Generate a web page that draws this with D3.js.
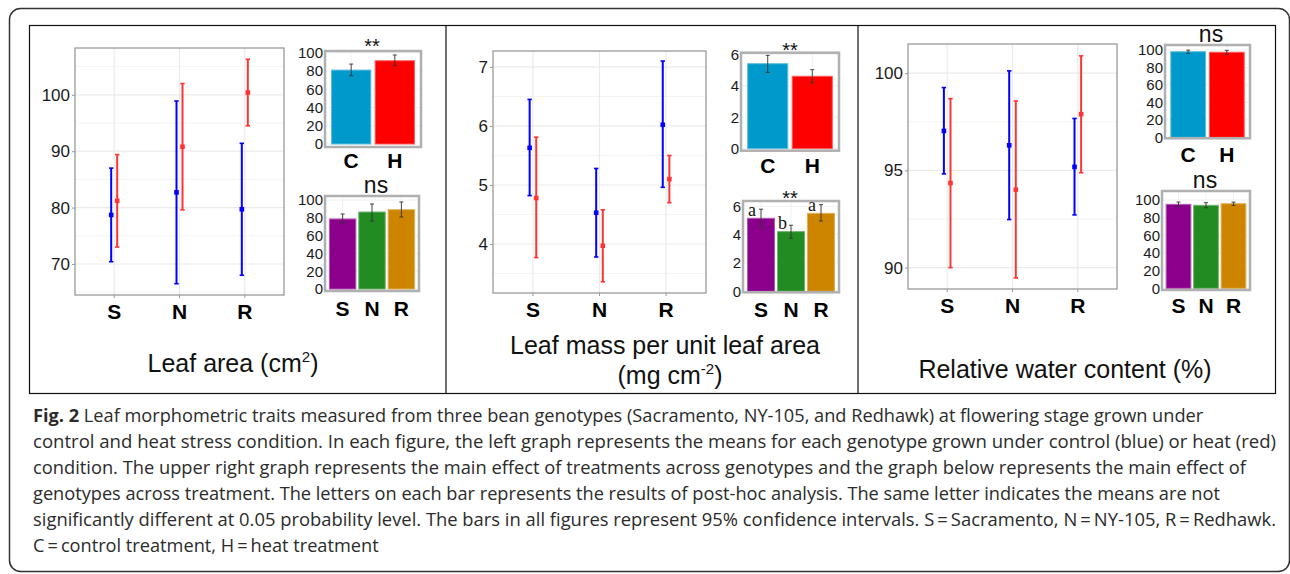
<!DOCTYPE html>
<html>
<head>
<meta charset="utf-8">
<script src="https://cdn.jsdelivr.net/npm/d3@7"></script>
<style>
  body { margin: 0; background: #fff; }
  svg { display: block; }
</style>
</head>
<body>
<svg id="fig"></svg>
<script>
const genotypes = ["S", "N", "R"];
const treatments = ["C", "H"];

// [mean, lower CI, upper CI] for S, N, R
const areaControl = [[78.7, 70.4, 87.0], [82.7, 66.5, 98.9], [79.7, 68.0, 91.4]];
const areaHeat = [[81.2, 73.0, 89.4], [90.8, 79.6, 102.0], [100.4, 94.5, 106.3]];
const areaByTrt = [[81.0, 74.8, 87.6], [91.2, 85.8, 97.5]];
const areaByGen = [[78.7, 74.2, 84.3], [86.5, 76.4, 95.5], [89.1, 80.9, 97.8]];

const lmaControl = [[5.63, 4.82, 6.45], [4.53, 3.78, 5.28], [6.02, 4.96, 7.10]];
const lmaHeat = [[4.78, 3.77, 5.81], [3.97, 3.36, 4.58], [5.10, 4.70, 5.50]];
const lmaByTrt = [[5.40, 4.85, 5.93], [4.60, 4.19, 5.02]];
const lmaByGen = [[5.15, 4.49, 5.79], [4.21, 3.74, 4.66], [5.50, 4.96, 6.11]];
const lmaLetters = ["a", "b", "a"];

const rwcControl = [[97.03, 94.82, 99.26], [96.29, 92.47, 100.12], [95.18, 92.71, 97.67]];
const rwcHeat = [[94.35, 90.0, 98.69], [94.01, 89.47, 98.57], [97.89, 94.88, 100.89]];
const rwcByTrt = [[98.0, 96.2, 99.8], [97.4, 95.0, 99.6]];
const rwcByGen = [[95.1, 92.6, 97.7], [94.0, 91.3, 97.0], [95.8, 94.0, 97.6]];

const trtColors = ["#0099cc", "#ff0000"];
const genColors = ["#8b008b", "#228b22", "#cd8500"];
const ctrlColor = "#0000ff";
const heatColor = "#ff2b2b";

const captionLines = [
  "Leaf morphometric traits measured from three bean genotypes (Sacramento, NY-105, and Redhawk) at flowering stage grown under",
  "control and heat stress condition. In each figure, the left graph represents the means for each genotype grown under control (blue) or heat (red)",
  "condition. The upper right graph represents the main effect of treatments across genotypes and the graph below represents the main effect of",
  "genotypes across treatment. The letters on each bar represents the results of post-hoc analysis. The same letter indicates the means are not",
  "significantly different at 0.05 probability level. The bars in all figures represent 95% confidence intervals. S\u2009=\u2009Sacramento, N\u2009=\u2009NY-105, R\u2009=\u2009Redhawk.",
  "C\u2009=\u2009control treatment, H\u2009=\u2009heat treatment"
];
// right edge of the lines that run the full measure
const captionFit = [null, 1276, 1246, null, 1276, null];

const W = 1290, H = 574;
const sans = "'Liberation Sans', Arial, Helvetica, sans-serif";

const svg = d3.select("#fig").attr("width", W).attr("height", H)
  .attr("viewBox", [0, 0, W, H]);

// frames
svg.append("rect")
  .attr("x", 9.5).attr("y", 8.5).attr("width", 1280).attr("height", 563)
  .attr("rx", 11).attr("fill", "none").attr("stroke", "#333").attr("stroke-width", 1.5);
svg.append("rect")
  .attr("x", 29.5).attr("y", 25.5).attr("width", 1246).attr("height", 368)
  .attr("fill", "none").attr("stroke", "#111").attr("stroke-width", 1.2);
svg.selectAll("line.divider")
  .data([446, 858])
  .join("line")
  .attr("class", "divider")
  .attr("x1", d => d).attr("x2", d => d)
  .attr("y1", 25.5).attr("y2", 393.5)
  .attr("stroke", "#111").attr("stroke-width", 1.2);

const fmt = d3.format("~g");

function drawMain(cfg, ctrl, heat) {
  const g = svg.append("g");
  const x = d3.scalePoint().domain(genotypes).range([cfg.x0, cfg.x1]).padding(0.6);
  const y = d3.scaleLinear().domain(cfg.yDomain).range([cfg.y1, cfg.y0]);

  g.append("rect")
    .attr("x", cfg.x0).attr("y", cfg.y0)
    .attr("width", cfg.x1 - cfg.x0).attr("height", cfg.y1 - cfg.y0)
    .attr("fill", "#fff");

  // minor + major grid
  g.selectAll("line.minor")
    .data(cfg.minor)
    .join("line")
    .attr("x1", cfg.x0).attr("x2", cfg.x1)
    .attr("y1", d => y(d)).attr("y2", d => y(d))
    .attr("stroke", "#f4f4f4").attr("stroke-width", 1);
  g.selectAll("line.major")
    .data(cfg.ticks)
    .join("line")
    .attr("x1", cfg.x0).attr("x2", cfg.x1)
    .attr("y1", d => y(d)).attr("y2", d => y(d))
    .attr("stroke", "#ebebeb").attr("stroke-width", 1.2);
  g.selectAll("line.vgrid")
    .data(genotypes)
    .join("line")
    .attr("x1", d => x(d)).attr("x2", d => x(d))
    .attr("y1", cfg.y0).attr("y2", cfg.y1)
    .attr("stroke", "#ebebeb").attr("stroke-width", 1.2);

  g.append("rect")
    .attr("x", cfg.x0).attr("y", cfg.y0)
    .attr("width", cfg.x1 - cfg.x0).attr("height", cfg.y1 - cfg.y0)
    .attr("fill", "none").attr("stroke", "#9a9a9a").attr("stroke-width", 1.3);

  // y axis
  const ya = g.append("g")
    .attr("transform", `translate(${cfg.x0},0)`)
    .call(d3.axisLeft(y).tickValues(cfg.ticks).tickFormat(fmt).tickSize(3).tickPadding(2));
  ya.select(".domain").remove();
  ya.selectAll("line").attr("stroke", "#999");
  ya.selectAll("text")
    .attr("font-family", sans).attr("font-size", 17).attr("fill", "#1a1a1a");

  // x ticks + labels
  g.selectAll("line.xtick")
    .data(genotypes)
    .join("line")
    .attr("x1", d => x(d)).attr("x2", d => x(d))
    .attr("y1", cfg.y1).attr("y2", cfg.y1 + 3)
    .attr("stroke", "#999");
  g.selectAll("text.xlab")
    .data(genotypes)
    .join("text")
    .attr("x", d => x(d)).attr("y", cfg.labelY)
    .attr("text-anchor", "middle")
    .attr("font-family", sans).attr("font-size", 21).attr("font-weight", "bold")
    .attr("fill", "#000")
    .text(d => d);

  const series = [
    { vals: ctrl, off: -cfg.dodge, color: ctrlColor, op: 1 },
    { vals: heat, off: cfg.dodge, color: heatColor, op: 0.95 }
  ];
  series.forEach(s => {
    const sg = g.append("g").attr("stroke", s.color).attr("fill", s.color).attr("opacity", s.op);
    const rows = s.vals.map((v, i) => ({ g: genotypes[i], m: v[0], lo: v[1], hi: v[2] }));
    sg.selectAll("line.bar")
      .data(rows)
      .join("line")
      .attr("x1", d => x(d.g) + s.off).attr("x2", d => x(d.g) + s.off)
      .attr("y1", d => y(d.lo)).attr("y2", d => y(d.hi))
      .attr("stroke-width", 2);
    sg.selectAll("line.capHi")
      .data(rows)
      .join("line")
      .attr("x1", d => x(d.g) + s.off - 2.2).attr("x2", d => x(d.g) + s.off + 2.2)
      .attr("y1", d => y(d.hi)).attr("y2", d => y(d.hi))
      .attr("stroke-width", 1.6);
    sg.selectAll("line.capLo")
      .data(rows)
      .join("line")
      .attr("x1", d => x(d.g) + s.off - 2.2).attr("x2", d => x(d.g) + s.off + 2.2)
      .attr("y1", d => y(d.lo)).attr("y2", d => y(d.lo))
      .attr("stroke-width", 1.6);
    sg.selectAll("rect.pt")
      .data(rows)
      .join("rect")
      .attr("x", d => x(d.g) + s.off - 2.3).attr("y", d => y(d.m) - 2.3)
      .attr("width", 4.6).attr("height", 4.6)
      .attr("stroke", "none");
  });
}

function drawBars(cfg, data, cats, colors) {
  const g = svg.append("g");
  const x = d3.scalePoint().domain(cats).range([cfg.x0, cfg.x1]).padding(0.6);
  const bw = x.step() * 0.9;
  const y = d3.scaleLinear().domain(cfg.yDomain).range([cfg.y1, cfg.y0]);

  g.append("rect")
    .attr("x", cfg.x0).attr("y", cfg.y0)
    .attr("width", cfg.x1 - cfg.x0).attr("height", cfg.y1 - cfg.y0)
    .attr("fill", "#fff");
  g.selectAll("line.grid")
    .data(cfg.ticks)
    .join("line")
    .attr("x1", cfg.x0).attr("x2", cfg.x1)
    .attr("y1", d => y(d)).attr("y2", d => y(d))
    .attr("stroke", "#f0f0f0");
  g.selectAll("line.vgrid")
    .data(cats)
    .join("line")
    .attr("x1", d => x(d)).attr("x2", d => x(d))
    .attr("y1", cfg.y0).attr("y2", cfg.y1)
    .attr("stroke", "#f0f0f0");

  const rows = data.map((v, i) => ({ c: cats[i], m: v[0], lo: v[1], hi: v[2], color: colors[i] }));

  g.selectAll("rect.bar")
    .data(rows)
    .join("rect")
    .attr("x", d => x(d.c) - bw / 2)
    .attr("y", d => y(d.m))
    .attr("width", bw)
    .attr("height", d => y(0) - y(d.m))
    .attr("fill", d => d.color)
    .attr("stroke", d => d3.interpolateRgb(d.color, "#fff")(0.35))
    .attr("stroke-width", 1);

  const eg = g.append("g").attr("stroke", "#333").attr("stroke-width", 0.9);
  eg.selectAll("line.e")
    .data(rows)
    .join("line")
    .attr("x1", d => x(d.c)).attr("x2", d => x(d.c))
    .attr("y1", d => y(d.lo)).attr("y2", d => y(d.hi));
  eg.selectAll("line.eh")
    .data(rows)
    .join("line")
    .attr("x1", d => x(d.c) - 2).attr("x2", d => x(d.c) + 2)
    .attr("y1", d => y(d.hi)).attr("y2", d => y(d.hi));
  eg.selectAll("line.el")
    .data(rows)
    .join("line")
    .attr("x1", d => x(d.c) - 2).attr("x2", d => x(d.c) + 2)
    .attr("y1", d => y(d.lo)).attr("y2", d => y(d.lo));

  if (cfg.letters) {
    g.selectAll("text.letter")
      .data(rows)
      .join("text")
      .attr("x", d => x(d.c) - bw / 2 + 0.5)
      .attr("y", d => y(d.m) - 2.5)
      .attr("font-family", "'Liberation Serif', 'Times New Roman', serif")
      .attr("font-size", 18)
      .attr("fill", "#111")
      .text((d, i) => cfg.letters[i]);
  }

  g.append("rect")
    .attr("x", cfg.x0).attr("y", cfg.y0)
    .attr("width", cfg.x1 - cfg.x0).attr("height", cfg.y1 - cfg.y0)
    .attr("fill", "none").attr("stroke", "#b0b0b0").attr("stroke-width", 2.5);

  const ya = g.append("g")
    .attr("transform", `translate(${cfg.x0 - 1},0)`)
    .call(d3.axisLeft(y).tickValues(cfg.ticks).tickFormat(fmt).tickSize(0).tickPadding(1));
  ya.select(".domain").remove();
  ya.selectAll("text")
    .attr("font-family", sans).attr("font-size", 15).attr("fill", "#1a1a1a");

  g.selectAll("text.xlab")
    .data(cats)
    .join("text")
    .attr("x", d => x(d)).attr("y", cfg.labelY)
    .attr("text-anchor", "middle")
    .attr("font-family", sans).attr("font-size", 21).attr("font-weight", "bold")
    .attr("fill", "#000")
    .text(d => d);

  g.append("text")
    .attr("x", cfg.sigX).attr("y", cfg.sigY)
    .attr("text-anchor", "middle")
    .attr("font-family", sans)
    .attr("font-size", cfg.sig === "ns" ? 23 : 20)
    .attr("fill", "#111")
    .text(cfg.sig);
}

function drawTitle(lines) {
  lines.forEach(l => {
    const t = svg.append("text")
      .attr("x", l.x).attr("y", l.y)
      .attr("text-anchor", "middle")
      .attr("font-family", sans).attr("font-size", 25).attr("fill", "#111");
    t.append("tspan").text(l.text);
    if (l.sup) {
      t.append("tspan").attr("font-size", 15).attr("dy", -10).text(l.sup);
      t.append("tspan").attr("dy", 10).text(l.tail);
    }
  });
}

// ---- panel 1: leaf area
drawMain({ x0: 75, x1: 284, y0: 48, y1: 295, yDomain: [64.5, 108.3],
  ticks: [70, 80, 90, 100], minor: [65, 75, 85, 95, 105], dodge: 3, labelY: 319 },
  areaControl, areaHeat);
drawBars({ x0: 325, x1: 421, y0: 51, y1: 147, yDomain: [-3.3, 101.9],
  ticks: [0, 20, 40, 60, 80, 100], labelY: 168, sig: "**", sigX: 372, sigY: 53 },
  areaByTrt, treatments, trtColors);
drawBars({ x0: 325, x1: 419, y0: 196, y1: 291, yDomain: [-2.2, 104.5],
  ticks: [0, 20, 40, 60, 80, 100], labelY: 316, sig: "ns", sigX: 376, sigY: 193 },
  areaByGen, genotypes, genColors);
drawTitle([{ x: 233, y: 372, text: "Leaf area (cm", sup: "2", tail: ")" }]);

// ---- panel 2: leaf mass per area
drawMain({ x0: 493, x1: 706, y0: 51, y1: 293, yDomain: [3.17, 7.27],
  ticks: [4, 5, 6, 7], minor: [3.5, 4.5, 5.5, 6.5], dodge: 3.3, labelY: 317 },
  lmaControl, lmaHeat);
drawBars({ x0: 741, x1: 839, y0: 52.7, y1: 150.7, yDomain: [-0.13, 6.1],
  ticks: [0, 2, 4, 6], labelY: 173, sig: "**", sigX: 790, sigY: 57 },
  lmaByTrt, treatments, trtColors);
drawBars({ x0: 743, x1: 839, y0: 201, y1: 292.3, yDomain: [-0.07, 6.37],
  ticks: [0, 2, 4, 6], labelY: 317, sig: "**", sigX: 790, sigY: 205, letters: lmaLetters },
  lmaByGen, genotypes, genColors);
drawTitle([
  { x: 665, y: 354, text: "Leaf mass per unit leaf area" },
  { x: 670, y: 384, text: "(mg cm", sup: "-2", tail: ")" }
]);

// ---- panel 3: relative water content
drawMain({ x0: 908, x1: 1117, y0: 44, y1: 289, yDomain: [88.9, 101.5],
  ticks: [90, 95, 100], minor: [92.5, 97.5], dodge: 3.3, labelY: 313 },
  rwcControl, rwcHeat);
drawBars({ x0: 1165, x1: 1250, y0: 45, y1: 138.3, yDomain: [-1.1, 105.7],
  ticks: [0, 20, 40, 60, 80, 100], labelY: 162, sig: "ns", sigX: 1211, sigY: 41.5 },
  rwcByTrt, treatments, trtColors);
drawBars({ x0: 1162, x1: 1250, y0: 191, y1: 290, yDomain: [-1.9, 110.2],
  ticks: [0, 20, 40, 60, 80, 100], labelY: 313, sig: "ns", sigX: 1205, sigY: 187.5 },
  rwcByGen, genotypes, genColors);
drawTitle([{ x: 1065, y: 378, text: "Relative water content (%)" }]);

// ---- caption
const cap = svg.append("g")
  .attr("font-family", "'Open Sans', 'Noto Sans', sans-serif")
  .attr("font-size", 18.2)
  .attr("fill", "#2b2b2b");
captionLines.forEach((line, i) => {
  const t = cap.append("text")
    .attr("x", 33).attr("y", 422 + i * 26);
  if (captionFit[i]) {
    t.attr("textLength", captionFit[i] - 33).attr("lengthAdjust", "spacingAndGlyphs");
  }
  if (i === 0) {
    t.append("tspan").attr("font-weight", "bold").text("Fig. 2 ");
  }
  t.append("tspan").text(line);
});
</script>
</body>
</html>
